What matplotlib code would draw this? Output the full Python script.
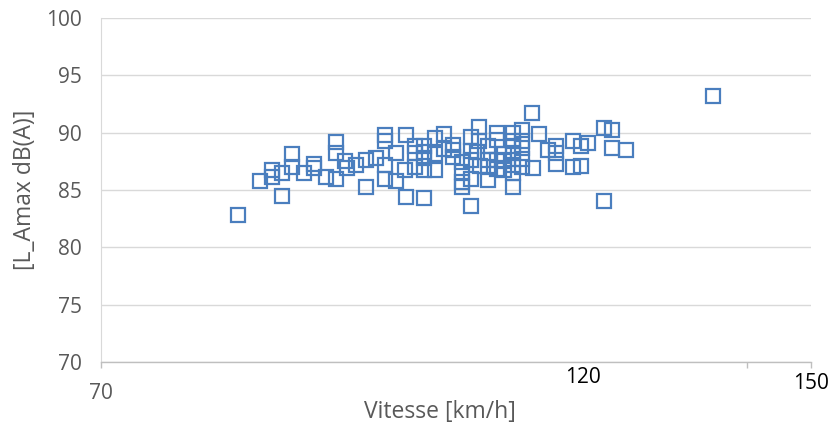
import numpy             as np
import matplotlib
matplotlib.use("Agg")
import matplotlib.pyplot as plt

# speed [km/h] and L_Amax [dB(A)]
speed = [80.6, 82.3, 83.2, 83.2, 84.0, 84.0, 84.8, 84.8, 85.7, 86.5,
         86.5, 87.4, 88.2, 88.2, 88.2, 88.9, 89.0, 89.7, 90.5, 90.5,
         91.3, 92.0, 92.0, 92.0, 92.0, 92.8, 92.8, 93.6, 93.6, 93.5,
         94.3, 94.3, 94.3, 95.0, 95.0, 95.0, 95.0, 95.8, 95.8, 95.8,
         96.5, 97.2, 97.2, 97.9, 97.9, 97.9, 97.9, 98.6, 98.6, 98.6,
         98.6, 99.2, 99.1, 99.3, 99.9, 99.9, 99.9, 100.6, 100.6, 100.6,
         101.2, 101.2, 101.9, 101.9, 101.9, 101.9, 101.9, 101.9, 102.6, 102.6,
         102.6, 102.6, 103.3, 103.4, 103.9, 104.6, 105.2, 105.2, 105.2, 106.5,
         106.5, 107.1, 107.1, 107.7, 108.9, 108.9, 109.5, 109.5, 110.6, 117.3,
         97.2, 99.9, 98.6, 101.2, 101.9, 102.6, 95.0, 96.5, 100.6, 99.2]
lamax = [82.8, 85.8, 86.7, 86.1, 84.5, 86.5, 88.1, 87.0, 86.5, 87.3,
         86.9, 86.1, 89.2, 88.2, 86.0, 87.5, 86.9, 87.2, 87.6, 85.3,
         87.8, 89.8, 89.3, 87.2, 86.0, 88.2, 85.8, 89.8, 84.4, 86.7,
         88.8, 88.2, 87.0, 84.3, 88.8, 87.8, 86.7, 89.5, 86.7, 88.1,
         89.9, 88.9, 87.9, 87.4, 86.6, 85.7, 85.3, 83.6, 89.6, 88.4,
         86.0, 90.5, 88.3, 87.1, 88.8, 87.0, 85.9, 90.0, 89.4, 87.6,
         88.1, 86.7, 90.0, 89.3, 88.2, 87.2, 86.5, 85.3, 90.2, 88.7,
         87.7, 87.0, 91.7, 86.9, 89.9, 88.5, 88.8, 88.2, 87.3, 89.3,
         87.0, 88.8, 87.1, 89.1, 90.4, 84.0, 90.2, 88.7, 88.5, 93.2,
         88.5, 87.6, 87.6, 87.5, 88.8, 89.3, 88.3, 88.6, 86.8, 89.3]

x_min, x_max = 70, 124.9
x_ticks      = [70, 120, 124.9]
y_ticks      = [70, 75, 80, 85, 90, 95, 100]

grey  = "#595959"
plt.rcParams['font.family'] = ['Open Sans', 'DejaVu Sans']

fig = plt.figure(figsize=(8.35, 4.26), dpi=100)
ax  = fig.add_axes([0.121, 0.150, 0.850, 0.808])

ax.plot(speed, lamax, 's', markersize=10.3, markerfacecolor='none',
        markeredgecolor='#4A7EBE', markeredgewidth=1.6, zorder=3)

ax.set_xlim(x_min, x_max)
ax.set_ylim(70, 100)
ax.set_yticks(y_ticks)
ax.set_xticks(x_ticks)
ax.set_xticklabels([])
ax.grid(axis='y', color='#D9D9D9', linewidth=1.0)
ax.set_axisbelow(True)

for s in ['top', 'right']:
    ax.spines[s].set_visible(False)
ax.spines['left'].set_color('#D9D9D9')
ax.spines['bottom'].set_color('#BFBFBF')
ax.spines['bottom'].set_linewidth(1.0)

ax.tick_params(axis='y', length=0, pad=14, labelsize=15, labelcolor=grey)
ax.tick_params(axis='x', length=4, width=1.0, color='#BFBFBF', direction='out')

ax.set_ylabel("[L_Amax dB(A)]", fontsize=16.5, color=grey, va='center')
ax.yaxis.set_label_coords(-0.107, 0.5)
ax.set_xlabel("Vitesse [km/h]", fontsize=16.5, color=grey, va='center')
ax.xaxis.set_label_coords(0.477, -0.145)

# hand placed axis labels as in the original
ax.text(0.0, -0.090, "70", transform=ax.transAxes, ha='center', va='center',
        fontsize=15, color=grey)
ax.text(0.679, -0.045, "120", transform=ax.transAxes, ha='center', va='center',
        fontsize=15, color='black')
ax.text(1.0, -0.061, "150", transform=ax.transAxes, ha='center', va='center',
        fontsize=15, color='black')

fig.savefig("out.png", dpi=100)
